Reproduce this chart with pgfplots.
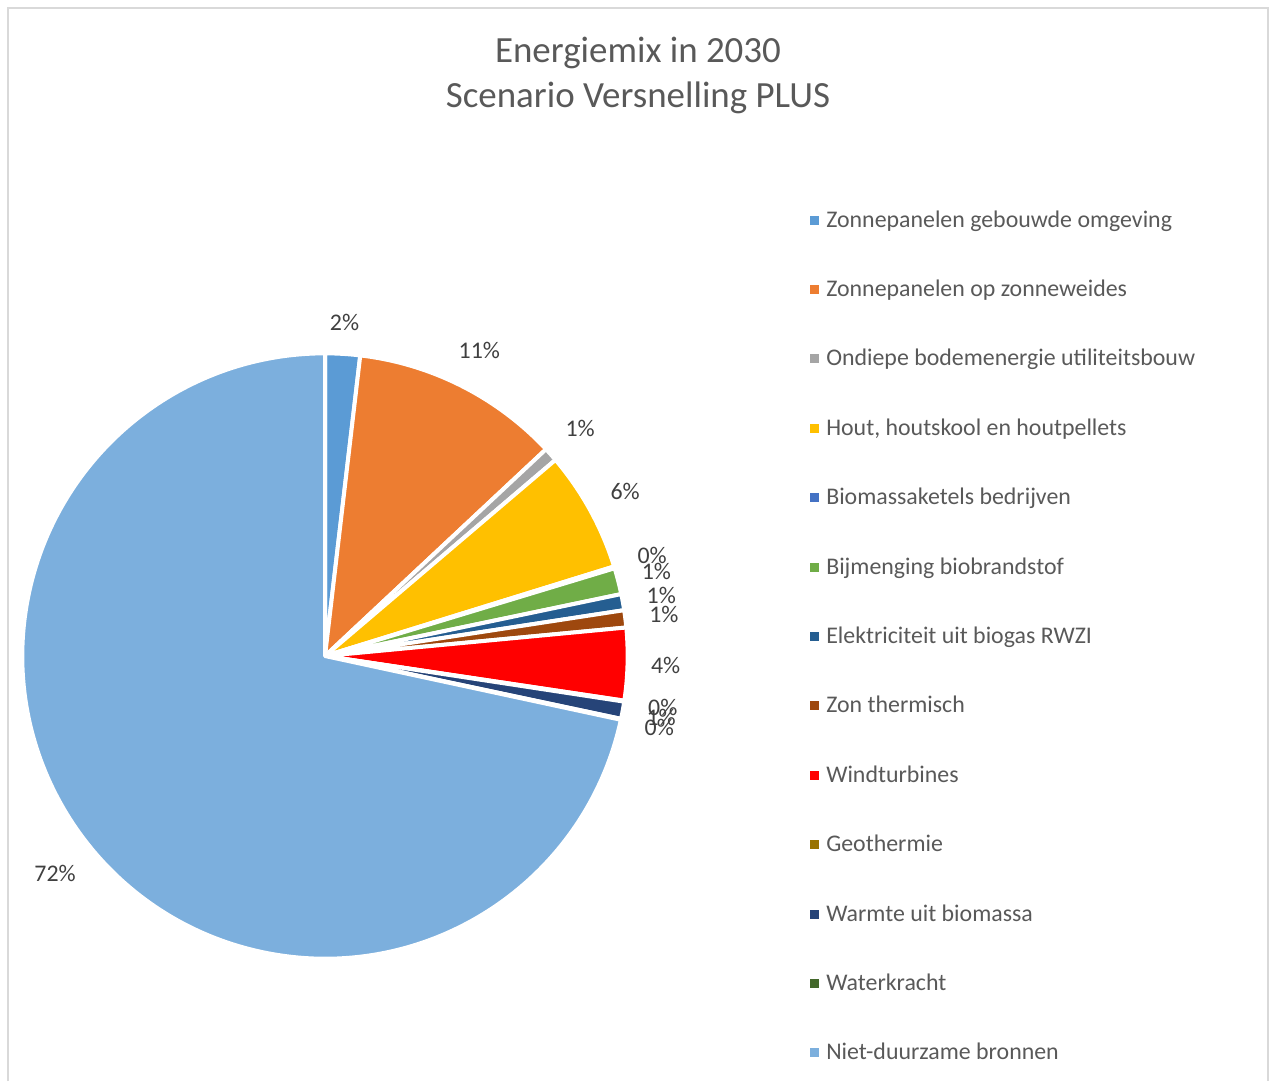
\documentclass[border=0pt]{standalone}
\usepackage{pgfplots}
\pgfplotsset{compat=1.18}
\usepackage{pgfplotstable}
\usepackage{fontspec}
\setmainfont{Carlito}

\definecolor{pie0}{HTML}{5B9BD5}
\definecolor{pie1}{HTML}{ED7D31}
\definecolor{pie2}{HTML}{A5A5A5}
\definecolor{pie3}{HTML}{FFC000}
\definecolor{pie4}{HTML}{4472C4}
\definecolor{pie5}{HTML}{70AD47}
\definecolor{pie6}{HTML}{255E91}
\definecolor{pie7}{HTML}{9E480E}
\definecolor{pie8}{HTML}{FF0000}
\definecolor{pie9}{HTML}{997300}
\definecolor{pie10}{HTML}{264478}
\definecolor{pie11}{HTML}{43682B}
\definecolor{pie12}{HTML}{7CAFDD}
\definecolor{txtgray}{HTML}{595959}
\definecolor{labgray}{HTML}{404040}
\definecolor{framegray}{HTML}{D9D9D9}

\newcommand\legfont{\fontsize{17.9pt}{21pt}\selectfont}
\newcommand\labfont{\fontsize{17.9pt}{21pt}\selectfont}
\newcommand\titlefont{\fontsize{27.7pt}{33pt}\selectfont}

% share of each source in the 2030 energy mix (percent)
\pgfplotstableread[col sep=semicolon,row sep=\\]{
label;value\\
Zonnepanelen gebouwde omgeving;1.86\\
Zonnepanelen op zonneweides;11.17\\
Ondiepe bodemenergie utiliteitsbouw;0.75\\
Hout, houtskool en houtpellets;6.44\\
Biomassaketels bedrijven;0.10\\
Bijmenging biobrandstof;1.40\\
Elektriciteit uit biogas RWZI;0.86\\
Zon thermisch;0.92\\
Windturbines;3.86\\
Geothermie;0.05\\
Warmte uit biomassa;0.92\\
Waterkracht;0.05\\
Niet-duurzame bronnen;71.62\\
}\mixdata

\pgfplotstablegetrowsof{\mixdata}
\pgfmathtruncatemacro\pielastrow{\pgfplotsretval-1}
\gdef\pietotal{0}
\foreach \i in {0,...,\pielastrow}{%
  \pgfplotstablegetelem{\i}{value}\of\mixdata
  \pgfmathsetmacro\pietmp{\pietotal+\pgfplotsretval}%
  \xdef\pietotal{\pietmp}%
}
\gdef\piecum{0}
\foreach \i in {0,...,\pielastrow}{%
  \pgfplotstablegetelem{\i}{value}\of\mixdata
  \let\pieval\pgfplotsretval
  \pgfmathsetmacro\pies{\piecum/\pietotal*360}%
  \pgfmathsetmacro\piee{(\piecum+\pieval)/\pietotal*360}%
  \pgfmathsetmacro\piem{(\pies+\piee)/2}%
  \pgfmathtruncatemacro\piep{round(\pieval/\pietotal*100)}%
  \pgfmathsetmacro\piew{ifthenelse(\piep>9,20.7,14.6)}%
  \pgfmathsetmacro\pied{326+\piew*abs(sin(\piem))+7.7*abs(cos(\piem))}%
  \pgfmathsetmacro\pielx{325+\pied*sin(\piem)}%
  \pgfmathsetmacro\piely{656-\pied*cos(\piem)}%
  \pgfmathsetmacro\pienewcum{\piecum+\pieval}%
  \xdef\piecum{\pienewcum}%
  \expandafter\xdef\csname pieS\i\endcsname{\pies}%
  \expandafter\xdef\csname pieE\i\endcsname{\piee}%
  \expandafter\xdef\csname pieP\i\endcsname{\piep}%
  \expandafter\xdef\csname pieX\i\endcsname{\pielx}%
  \expandafter\xdef\csname pieY\i\endcsname{\piely}%
  \pgfplotstablegetelem{\i}{label}\of\mixdata
  \expandafter\xdef\csname pieL\i\endcsname{\pgfplotsretval}%
}

\begin{document}
\begin{tikzpicture}
\begin{axis}[
  width=951.75pt, height=810.75pt, scale only axis,
  xmin=0, xmax=1269, ymin=0, ymax=1081, y dir=reverse,
  hide axis, clip=false]
\coordinate (bbA) at (axis cs:0,1081);
\coordinate (bbB) at (axis cs:1269,0);
\draw[framegray, line width=1.1pt] (axis cs:8,1081) -- (axis cs:8,8) -- (axis cs:1268,8) -- (axis cs:1268,1081);
\pgfplotsinvokeforeach{0,...,12}{
  \fill[fill=pie#1, draw=white, line width=3pt, line join=round]
    (axis cs:325,656) -- ++({90-\csname pieS#1\endcsname}:227pt)
    arc[start angle={90-\csname pieS#1\endcsname}, end angle={90-\csname pieE#1\endcsname}, radius=227pt] -- cycle;
}
\pgfplotsinvokeforeach{0,...,12}{
  \node[text=labgray, font=\labfont, inner sep=0pt] at (axis cs:\csname pieX#1\endcsname,\csname pieY#1\endcsname) {\csname pieP#1\endcsname\%};
  \fill[pie#1] (axis cs:809.5,{215.5+69.4*#1}) rectangle (axis cs:818.5,{224.5+69.4*#1});
  \node[anchor=base west, inner sep=0pt, text=txtgray, font=\legfont] at (axis cs:826,{227+69.4*#1}) {\csname pieL#1\endcsname};
}
\node[anchor=base, inner sep=0pt, text=txtgray, font=\titlefont] at (axis cs:638,63) {Energiemix in 2030};
\node[anchor=base, inner sep=0pt, text=txtgray, font=\titlefont] at (axis cs:638,108) {Scenario Versnelling PLUS};
\end{axis}
\pgfresetboundingbox
\path[use as bounding box] (bbA) rectangle (bbB);
\end{tikzpicture}
\end{document}
